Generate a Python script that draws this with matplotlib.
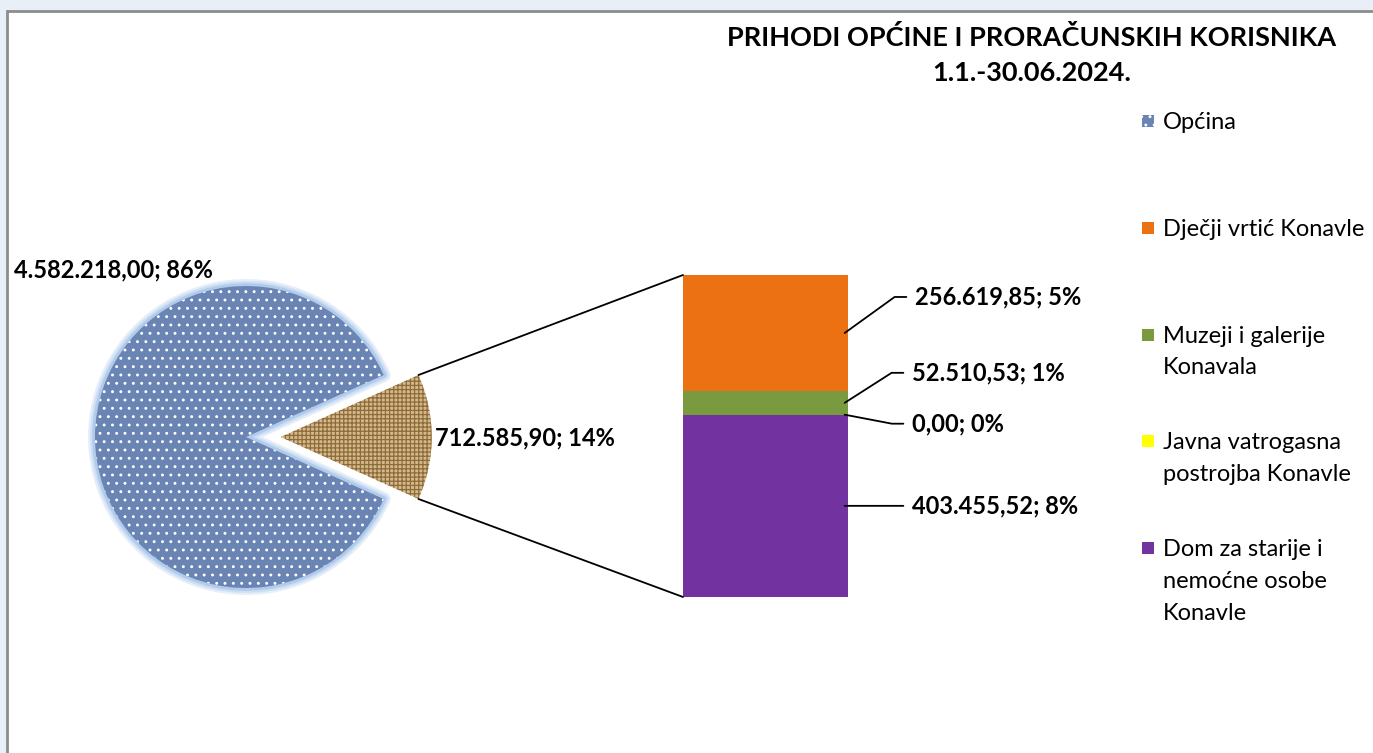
import numpy as np
import matplotlib.pyplot as plt
from matplotlib.patches import Rectangle, Wedge, ConnectionPatch

plt.rcParams['font.family'] = ['Lato', 'DejaVu Sans']
plt.rcParams['hatch.linewidth'] = 0.9

title = 'PRIHODI OPĆINE I PRORAČUNSKIH KORISNIKA\n1.1.-30.06.2024.'

# pie: Općina vs. proračunski korisnici (ukupno)
pie_names = ['Općina', 'Proračunski korisnici']
pie_values = [4582218.00, 712585.90]
pie_pct = [86, 14]

# bar of pie, top to bottom as in the legend
bar_names = ['Dječji vrtić Konavle',
             'Muzeji i galerije\nKonavala',
             'Javna vatrogasna\npostrojba Konavle',
             'Dom za starije i\nnemoćne osobe\nKonavle']
bar_values = [256619.85, 52510.53, 0.00, 403455.52]
bar_pct = [5, 1, 0, 8]
bar_colors = ['#EC7112', '#799A3E', '#FFFF00', '#7232A0']


def hr(v):
    s = f'{v:,.2f}'
    return s.replace(',', 'X').replace('.', ',').replace('X', '.')


W, H = 1373, 753
fig = plt.figure(figsize=(W / 100, H / 100), dpi=100)
fig.patch.set_facecolor('#E9EFF7')
fig.add_artist(Rectangle((7 / W, -0.05), 1.0, 1.05 - 11 / H, transform=fig.transFigure,
                         facecolor='white', edgecolor='#8c8c8c', lw=2, zorder=0))

#================= pie ==================
R = 151.0
ax1 = fig.add_axes([(246 - 200) / W, (H - 437 - 200) / H, 400 / W, 400 / H])
start = 360 * pie_values[1] / sum(pie_values) / 2
wedges, _ = ax1.pie(pie_values, startangle=start, explode=[0, 0.23], radius=1,
                    wedgeprops=dict(lw=0))
lim = 200 / R
ax1.set_xlim(-lim, lim)
ax1.set_ylim(-lim, lim)
ax1.set_aspect('equal')
ax1.axis('off')

m = wedges[0]
for lw, c in [(10, '#e6eef9'), (7, '#cfdff3'), (4, '#b0cbec')]:
    ax1.add_patch(Wedge(m.center, m.r, m.theta1, m.theta2, facecolor='none',
                        edgecolor=c, lw=lw, joinstyle='round', zorder=0))
m.set_facecolor('#6a85b3')
m.set_edgecolor('white')
m.set_hatch('..')
m.set_linewidth(0)

s = wedges[1]
s.set_facecolor('#d5b987')
s.set_edgecolor('#8d6b3e')
s.set_hatch('++++')
s.set_linewidth(0)

lab_kw = dict(fontsize=17, fontweight='bold', va='center', ha='left')
ax1.text(-1.536, 1.106, f'{hr(pie_values[0])}; {pie_pct[0]}%', **lab_kw)
ax1.text(1.252, -0.007, f'{hr(pie_values[1])}; {pie_pct[1]}%', **lab_kw)

#================= bar ==================
ax2 = fig.add_axes([683 / W, (H - 597) / H, 165 / W, 322 / H])
total = sum(bar_values)
bottom = 0.0
centers = {}
for name, val, col in reversed(list(zip(bar_names, bar_values, bar_colors))):
    ax2.bar(0, val, 1.0, bottom=bottom, color=col, lw=0)
    centers[name] = bottom + val / 2
    bottom += val
ax2.set_xlim(-0.5, 0.5)
ax2.set_ylim(0, total)
ax2.axis('off')

# connector lines
cx, cy = s.center
for ang, yb in [(s.theta2, total), (s.theta1, 0)]:
    xp = cx + s.r * np.cos(np.radians(ang))
    yp = cy + s.r * np.sin(np.radians(ang))
    fig.add_artist(ConnectionPatch(xyA=(-0.5, yb), coordsA=ax2.transData,
                                   xyB=(xp, yp), coordsB=ax1.transData,
                                   color='black', lw=1.3))

# bar labels with leader lines
offsets = [(70, 36), (67, 30), (67, -9), (67, 0)]
for name, val, pct, (dx, dy) in zip(bar_names, bar_values, bar_pct, offsets):
    if dy == 0:
        cs = 'arc3'
    else:
        cs = 'angle,angleA=0,angleB=%.1f,rad=0' % np.degrees(np.arctan2(dy, dx - 20))
    ax2.annotate(f'{hr(val)}; {pct}%', xy=(0.48, centers[name]),
                 xytext=(dx, dy), textcoords='offset pixels',
                 arrowprops=dict(arrowstyle='-', color='black', lw=1.3,
                                 relpos=(0, 0.5), shrinkA=4, shrinkB=0,
                                 connectionstyle=cs),
                 annotation_clip=False, **lab_kw)

#================= title & legend ==================
fig.text(1032 / W, 1 - 55 / H, title, ha='center', va='center', fontsize=19.5,
         fontweight='bold', linespacing=1.55)

leg_names = [pie_names[0]] + bar_names
leg_face = ['#6a85b3'] + bar_colors
for i, name in enumerate(leg_names):
    yc = 121 + i * 106.8
    fig.text(1163 / W, 1 - (yc - 9) / H, name, ha='left', va='top',
             fontsize=17, linespacing=1.63)
    sq = Rectangle((1142 / W, 1 - (yc + 6) / H), 12 / W, 12 / H,
                   transform=fig.transFigure, facecolor=leg_face[i], lw=0)
    if i == 0:
        sq.set_edgecolor('white')
        sq.set_hatch('..')
    fig.add_artist(sq)

fig.savefig('out.png', dpi=100, facecolor=fig.get_facecolor())
